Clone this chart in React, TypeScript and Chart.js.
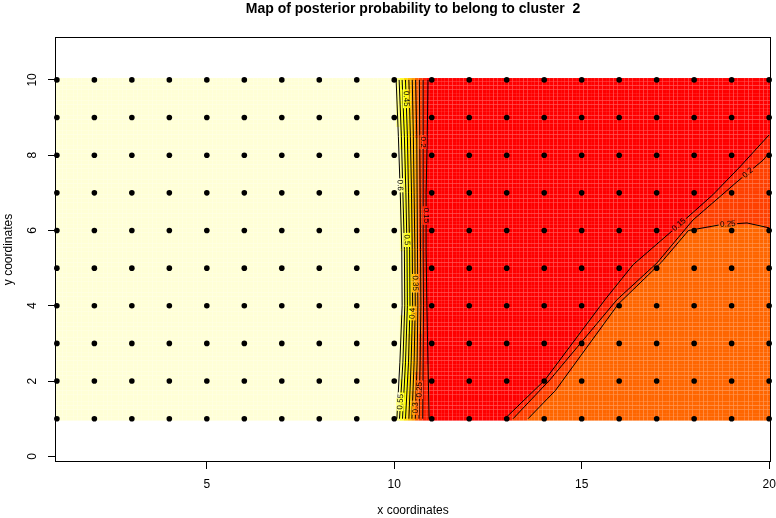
import React, { useEffect, useRef } from "react";
import { Chart, registerables } from "chart.js";
Chart.register(...registerables);

// grid of observation sites
const pointXs = [1, 2, 3, 4, 5, 6, 7, 8, 9, 10, 11, 12, 13, 14, 15, 16, 17, 18, 19, 20];
const pointYs = [1, 2, 3, 4, 5, 6, 7, 8, 9, 10];
const xTickValues = [5, 10, 15, 20];
const yTickValues = [0, 2, 4, 6, 8, 10];

// near-vertical contours (x position at each row of y)
const contourRowsY = [1, 2.5, 4, 5.5, 7, 8.5, 10];
const contourLevels = [0.6, 0.55, 0.5, 0.45, 0.4, 0.35, 0.3, 0.25, 0.2, 0.15];
const c060 = [10.07, 10.15, 10.21, 10.2, 10.16, 10.11, 10.05];
const c055 = [10.14, 10.23, 10.28, 10.27, 10.23, 10.19, 10.13];
const c050 = [10.22, 10.3, 10.35, 10.34, 10.31, 10.27, 10.21];
const c045 = [10.3, 10.38, 10.42, 10.41, 10.38, 10.35, 10.3];
const c040 = [10.39, 10.45, 10.49, 10.48, 10.46, 10.43, 10.39];
const c035 = [10.47, 10.53, 10.56, 10.55, 10.53, 10.51, 10.48];
const c030 = [10.56, 10.61, 10.63, 10.62, 10.61, 10.6, 10.57];
const c025 = [10.66, 10.69, 10.71, 10.7, 10.69, 10.68, 10.67];
const c020 = [10.76, 10.77, 10.78, 10.77, 10.77, 10.77, 10.77];
const c015 = [10.93, 10.9, 10.87, 10.85, 10.85, 10.88, 10.9];
const verticalContours = [c060, c055, c050, c045, c040, c035, c030, c025, c020, c015];

// diagonal contours in the lower right
const diag015X = [12.95, 14.02, 15.62, 16.37, 17.54, 18.5, 19.22, 20.0];
const diag015Y = [1.0, 2.03, 4.16, 5.09, 6.1, 6.95, 7.69, 8.54];
const diag020X = [13.17, 14.15, 15.94, 17.01, 17.97, 19.14, 19.84, 20.0];
const diag020Y = [1.0, 2.03, 4.16, 5.14, 6.28, 7.29, 7.87, 8.06];
const diag025X = [13.57, 14.3, 15.98, 17.12, 17.85, 18.69, 19.41, 20.0];
const diag025Y = [1.0, 1.75, 4.05, 5.15, 6.0, 6.15, 6.2, 6.07];

// contour labels
const vLabelLevels = [0.6, 0.55, 0.5, 0.45, 0.4, 0.35, 0.3, 0.25, 0.2, 0.15];
const vLabelY = [7.2, 1.45, 5.75, 9.5, 3.8, 4.6, 1.29, 1.77, 8.35, 6.4];
const dLabelLevels = [0.15, 0.2, 0.25];
const dLabelX = [17.6, 19.43, 18.9];

// heat colours: >0.6, 0.55-0.6, ..., 0.15-0.2, <0.15
const bandColors = [
  "#FFFFD6", "#FFFF80", "#FFFF2A", "#FFFF00", "#FFDF00", "#FFBF00",
  "#FF9F00", "#FF6600", "#FF4000", "#FF2000", "#FF0000",
];

const FONT = "'Liberation Sans', Arial, Helvetica, sans-serif";

function interpRows(xs: number[], y: number) {
  const r = contourRowsY;
  if (y <= r[0]) return xs[0];
  for (let k = 0; k < r.length - 1; k++) {
    if (y <= r[k + 1]) {
      const t = (y - r[k]) / (r[k + 1] - r[k]);
      return xs[k] + t * (xs[k + 1] - xs[k]);
    }
  }
  return xs[xs.length - 1];
}

function interpDiag(X: number[], Y: number[], x: number) {
  if (x < X[0]) return -Infinity;
  for (let k = 0; k < X.length - 1; k++) {
    if (x <= X[k + 1]) {
      const t = (x - X[k]) / (X[k + 1] - X[k]);
      return Y[k] + t * (Y[k + 1] - Y[k]);
    }
  }
  return Y[Y.length - 1];
}

function bandIndex(x: number, y: number) {
  for (let i = 0; i < verticalContours.length; i++) {
    if (x < interpRows(verticalContours[i], y)) return i;
  }
  if (y < interpDiag(diag025X, diag025Y, x)) return 7;
  if (y < interpDiag(diag020X, diag020Y, x)) return 8;
  if (y < interpDiag(diag015X, diag015Y, x)) return 9;
  return 10;
}

const heatPlugin = {
  id: "heatmap",
  beforeDatasetsDraw(chart: any) {
    const { ctx, chartArea: a } = chart;
    const sx = chart.scales.x;
    const sy = chart.scales.y;
    const px = (v: number) => sx.getPixelForValue(v);
    const py = (v: number) => sy.getPixelForValue(v);
    ctx.save();
    ctx.beginPath();
    ctx.rect(a.left, a.top, a.right - a.left, a.bottom - a.top);
    ctx.clip();

    // image cells
    const step = 0.1;
    const nx = 191;
    const ny = 91;
    for (let j = 0; j < ny; j++) {
      const ya = 0.95 + j * step;
      const pTop = py(ya + step);
      const pBot = py(ya);
      for (let i = 0; i < nx; i++) {
        const xa = 0.95 + i * step;
        const pl = px(xa);
        const pr = px(xa + step);
        ctx.fillStyle = bandColors[bandIndex(xa + step / 2, ya + step / 2)];
        ctx.fillRect(pl, pTop, pr - pl, pBot - pTop);
      }
    }

    const lines: number[][][] = [];
    verticalContours.forEach((xs) => {
      lines.push(contourRowsY.map((y, k) => [px(xs[k]), py(y)]));
    });
    lines.push(diag015X.map((x, k) => [px(x), py(diag015Y[k])]));
    lines.push(diag020X.map((x, k) => [px(x), py(diag020Y[k])]));
    lines.push(diag025X.map((x, k) => [px(x), py(diag025Y[k])]));

    ctx.font = `8px ${FONT}`;
    type Lab = { cx: number; cy: number; ang: number; text: string; w: number };
    const labs: Lab[] = [];
    const norm = (ang: number) => {
      if (ang > Math.PI / 2 + 1e-6) ang -= Math.PI;
      if (ang <= -Math.PI / 2 + 1e-6) ang += Math.PI;
      return ang;
    };
    vLabelLevels.forEach((lev, n) => {
      const idx = contourLevels.indexOf(lev);
      const xs = verticalContours[idx];
      const y = vLabelY[n];
      let k = 0;
      while (k < contourRowsY.length - 2 && y > contourRowsY[k + 1]) k++;
      const x = interpRows(xs, y);
      const dx = px(xs[k + 1]) - px(xs[k]);
      const dy = py(contourRowsY[k + 1]) - py(contourRowsY[k]);
      const text = String(lev);
      labs.push({ cx: px(x), cy: py(y), ang: norm(Math.atan2(dy, dx)), text, w: ctx.measureText(text).width });
    });
    const dSets = [
      [diag015X, diag015Y],
      [diag020X, diag020Y],
      [diag025X, diag025Y],
    ];
    dLabelLevels.forEach((lev, n) => {
      const [X, Y] = dSets[n];
      const x = dLabelX[n];
      let k = 0;
      while (k < X.length - 2 && x > X[k + 1]) k++;
      const y = interpDiag(X, Y, x);
      const dx = px(X[k + 1]) - px(X[k]);
      const dy = py(Y[k + 1]) - py(Y[k]);
      const text = String(lev);
      labs.push({ cx: px(x), cy: py(y), ang: norm(Math.atan2(dy, dx)), text, w: ctx.measureText(text).width });
    });

    ctx.save();
    ctx.beginPath();
    ctx.rect(a.left, a.top, a.right - a.left, a.bottom - a.top);
    labs.forEach((l) => {
      const hw = l.w / 2 + 1.5;
      const hh = 3.5;
      const c = Math.cos(l.ang);
      const s = Math.sin(l.ang);
      const pts = [
        [-hw, -hh], [hw, -hh], [hw, hh], [-hw, hh],
      ].map(([u, v]) => [l.cx + u * c - v * s, l.cy + u * s + v * c]);
      ctx.moveTo(pts[0][0], pts[0][1]);
      for (let q = 1; q < 4; q++) ctx.lineTo(pts[q][0], pts[q][1]);
      ctx.closePath();
    });
    ctx.clip("evenodd");
    ctx.strokeStyle = "#000";
    ctx.lineWidth = 1;
    lines.forEach((l) => {
      ctx.beginPath();
      l.forEach(([x, y], q) => (q === 0 ? ctx.moveTo(x, y) : ctx.lineTo(x, y)));
      ctx.stroke();
    });
    ctx.restore();

    ctx.fillStyle = "#000";
    ctx.textAlign = "center";
    ctx.textBaseline = "middle";
    labs.forEach((l) => {
      ctx.save();
      ctx.translate(l.cx, l.cy);
      ctx.rotate(l.ang);
      ctx.fillText(l.text, 0, 0);
      ctx.restore();
    });
    ctx.restore();
  },
  afterDraw(chart: any) {
    const { ctx, chartArea: a } = chart;
    ctx.save();
    ctx.strokeStyle = "#000";
    ctx.lineWidth = 1;
    ctx.strokeRect(a.left + 0.5, a.top + 0.5, a.right - a.left - 1, a.bottom - a.top - 1);
    const sy = chart.scales.y;
    ctx.fillStyle = "#000";
    ctx.font = `12px ${FONT}`;
    ctx.textAlign = "center";
    ctx.textBaseline = "middle";
    sy.ticks.forEach((t: any) => {
      ctx.save();
      ctx.translate(33, sy.getPixelForValue(t.value));
      ctx.rotate(-Math.PI / 2);
      ctx.fillText(String(t.value), 0, 0);
      ctx.restore();
    });
    ctx.restore();
  },
};

export default function App() {
  const ref = useRef<HTMLCanvasElement | null>(null);
  useEffect(() => {
    if (!ref.current) return;
    const pts = pointYs.flatMap((y) => pointXs.map((x) => ({ x, y })));
    const chart = new Chart(ref.current, {
      type: "scatter",
      data: {
        datasets: [
          {
            data: pts,
            pointRadius: 2.8,
            pointHoverRadius: 2.8,
            backgroundColor: "#000",
            borderWidth: 0,
            clip: false as any,
          },
        ],
      },
      options: {
        animation: false,
        responsive: false,
        devicePixelRatio: 1,
        layout: { padding: { left: 0, right: 5, top: 0, bottom: 0 } },
        plugins: {
          legend: { display: false },
          tooltip: { enabled: false },
          title: {
            display: true,
            text: "Map of posterior probability to belong to cluster  2",
            color: "#000",
            font: { family: FONT, size: 14, weight: "bold" },
            padding: { top: 1, bottom: 19.2 },
            fullSize: false,
          },
        },
        scales: {
          x: {
            type: "linear",
            min: 0.95,
            max: 20.05,
            afterBuildTicks: (s: any) => {
              s.ticks = xTickValues.map((v) => ({ value: v }));
            },
            afterFit: (s: any) => {
              s.height = 56;
              s.paddingLeft = 0;
              s.paddingRight = 0;
            },
            grid: { display: true, drawOnChartArea: false, drawTicks: true, tickLength: 7, color: "#000" },
            border: { display: false },
            ticks: { color: "#000", font: { family: FONT, size: 12 }, padding: 8, maxRotation: 0, autoSkip: false },
            title: {
              display: true,
              text: "x coordinates",
              color: "#000",
              font: { family: FONT, size: 12 },
              padding: { top: 0, bottom: 0 },
            },
          },
          y: {
            type: "linear",
            min: -0.15,
            max: 11.14,
            afterBuildTicks: (s: any) => {
              s.ticks = yTickValues.map((v) => ({ value: v }));
            },
            afterFit: (s: any) => {
              s.width = 55;
              s.paddingTop = 0;
              s.paddingBottom = 0;
            },
            grid: { display: true, drawOnChartArea: false, drawTicks: true, tickLength: 7, color: "#000" },
            border: { display: false },
            ticks: { display: false },
            title: {
              display: true,
              text: "y coordinates",
              color: "#000",
              font: { family: FONT, size: 12 },
              padding: { top: 1, bottom: 0 },
            },
          },
        },
      },
      plugins: [heatPlugin],
    });
    return () => chart.destroy();
  }, []);
  return (
    <div style={{ position: "absolute", left: 0, top: 0, width: 776, height: 518, background: "#fff" }}>
      <canvas ref={ref} width={776} height={518} style={{ display: "block" }} />
    </div>
  );
}
